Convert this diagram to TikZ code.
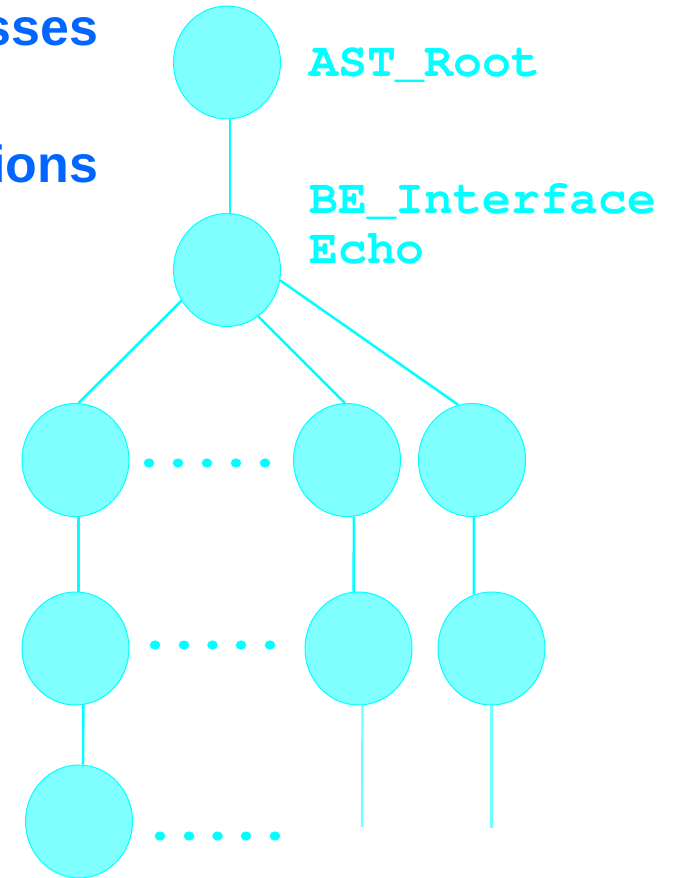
\documentclass[tikz,border=0pt]{standalone}
\usepackage{fontspec}
\usetikzlibrary{shapes.geometric}
\newfontfamily\labelmono{TeX Gyre Cursor}
\newfontfamily\titlesans{Liberation Sans}[BoldFont=* Bold]
\definecolor{aqua}{RGB}{0,255,255}
\definecolor{aquafill}{RGB}{128,255,255}
\definecolor{aqualight}{RGB}{110,255,255}
\definecolor{slideblue}{RGB}{0,102,255}
\tikzset{
  treenode/.style={shape=ellipse, draw=aqua, line width=1pt, fill=aquafill,
    minimum width=107pt, minimum height=113pt, inner sep=0pt},
  conn/.style={draw=aqua, line width=2.5pt},
  tailline/.style={draw=aqualight, line width=2.2pt},
  nodelabel/.style={text=aqua, anchor=base west, inner sep=0pt,
    font=\labelmono\bfseries\fontsize{48.2}{50}\selectfont},
  titletext/.style={text=slideblue, anchor=base east, inner sep=0pt,
    font=\titlesans\bfseries\fontsize{52}{60}\selectfont},
  dotfill/.style={fill=aqua}
}
\begin{document}
\begin{tikzpicture}[x=1pt, y=-1pt]
  \useasboundingbox (0,0) rectangle (673,878);
  \clip (0,0) rectangle (673,878);

  % slide headings, cut by the left edge
  \node[titletext] (title1) at (98.5,45) {sses};
  \node[titletext] (title2) at (98.5,182) {ions};

  % tree nodes
  \node[treenode] (root) at (227,62.5) {};
  \node[treenode] (be)   at (227,270) {};
  \node[treenode] (a)    at (75.5,460) {};
  \node[treenode] (b)    at (347,460) {};
  \node[treenode] (c)    at (472,460) {};
  \node[treenode] (d)    at (75.5,648.5) {};
  \node[treenode] (e)    at (358.5,648.5) {};
  \node[treenode] (f)    at (491.5,648.5) {};
  \node[treenode] (g)    at (79,821.5) {};

  % labels
  \node[nodelabel] (lroot) at (309,76) {AST\_Root};
  \node[nodelabel] (lbe1)  at (309,213) {BE\_Interface};
  \node[nodelabel] (lbe2)  at (309,263) {Echo};

  % edges
  \draw[conn] (root.-87) -- (be.87);
  \draw[conn] (be.214) -- (a.87);
  \draw[conn] (be.-56) -- (b.92);
  \draw[conn] (be.-11) -- (c.104);
  \draw[conn] (a.-87) -- (d.87);
  \draw[conn] (b.-83) -- (e.95);
  \draw[conn] (c.-88) -- (f.108);
  \draw[conn] (d.-82) -- (g.86);

  % open-ended subtrees
  \coordinate (etail) at (362,827);
  \coordinate (ftail) at (491.5,828);
  \draw[tailline] (e.-86) -- (etail);
  \draw[tailline] (f.-90) -- (ftail);

  % ellipsis dots between siblings
  \foreach \x in {149,178,207,236,265}
    \fill[dotfill] (\x,463) ellipse [x radius=5.3, y radius=4.6];
  \foreach \x in {155,184,212.5,241,270}
    \fill[dotfill] (\x,645) ellipse [x radius=5.3, y radius=4.6];
  \foreach \x in {160,189,217.5,246,275}
    \fill[dotfill] (\x,836) ellipse [x radius=5.3, y radius=4.6];
\end{tikzpicture}
\end{document}
